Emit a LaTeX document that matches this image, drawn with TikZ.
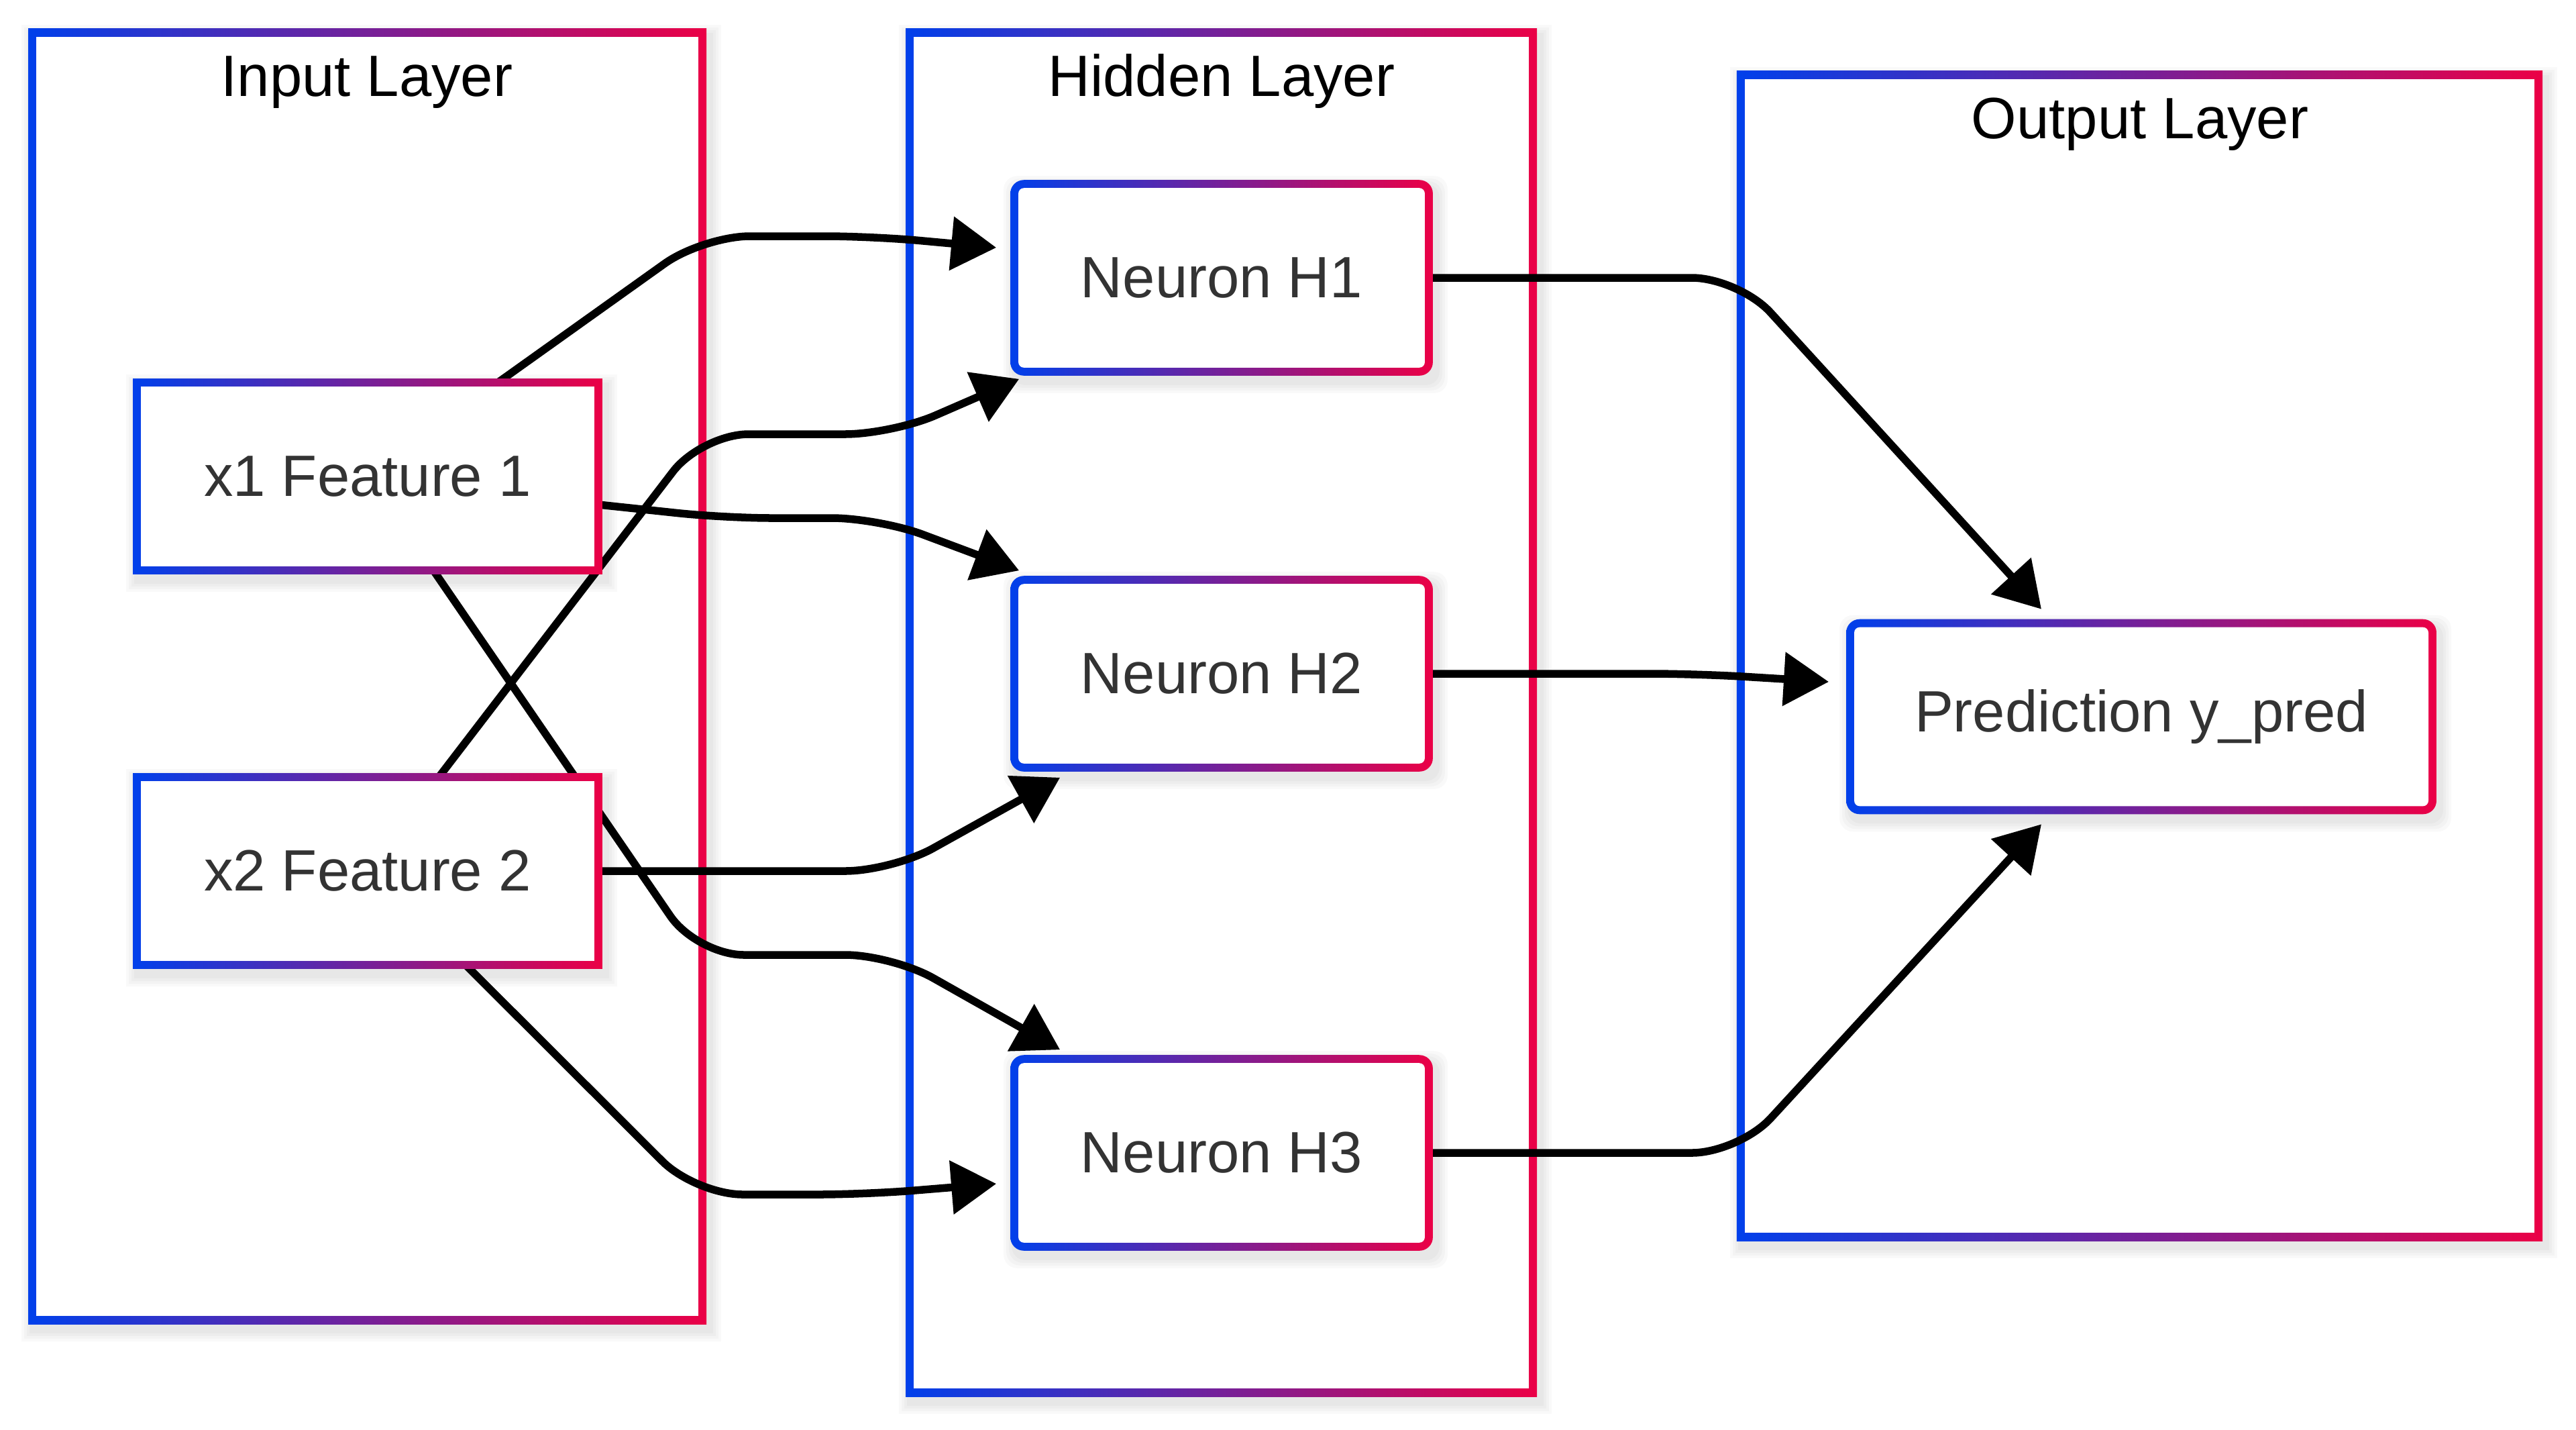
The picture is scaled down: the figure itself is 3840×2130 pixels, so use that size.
\documentclass[tikz,border=0pt]{standalone}
\usepackage{fontspec}
\setmainfont{Liberation Sans}
\usetikzlibrary{arrows.meta,calc}
\definecolor{cblue}{RGB}{0,64,235}
\definecolor{cred}{RGB}{235,0,70}
\definecolor{ntext}{RGB}{51,51,51}
\pgfdeclarelayer{frames}
\pgfdeclarelayer{edges}
\pgfdeclarelayer{boxes}
\pgfsetlayers{frames,edges,boxes,main}

% #1 node name, #2 outer corner style, #3 inner corner style, #4 layer
\newcommand\gradrect[4]{%
  \begin{pgfonlayer}{#4}
    \foreach \s in {4,8,12,16}{%
      \fill[black,opacity=0.025,#2]
        ($(#1.south west)+(-6-\s+6,6+\s+10)$) rectangle ($(#1.north east)+(6+\s+6,-6-\s+10)$);}
    \shade[left color=cblue,right color=cred,#2]
      ($(#1.south west)+(-6,6)$) rectangle ($(#1.north east)+(6,-6)$);
    \fill[white,#3]
      ($(#1.south west)+(6,-6)$) rectangle ($(#1.north east)+(-6,6)$);
  \end{pgfonlayer}}

\tikzset{
  cluster/.style={draw=none,inner sep=0pt},
  titletext/.style={anchor=base,inner sep=0pt,text=black,font=\fontsize{24.7}{30}\selectfont},
  nbox/.style={draw=none,inner sep=0pt,minimum width=6.16cm,minimum height=2.78cm,
    text=ntext,font=\fontsize{24.7}{30}\selectfont},
  fbox/.style={nbox,minimum width=6.86cm},
  pbox/.style={nbox,minimum width=8.66cm,minimum height=2.77cm},
  conn/.style={draw=black,line width=1.15mm,line join=round,rounded corners=7mm,
    -{Triangle[length=6.7mm,width=7.8mm]}}
}

\begin{document}
\begin{tikzpicture}[x=0.01cm,y=-0.01cm]
  \useasboundingbox (0,0) rectangle (3840,2130);
  \begin{pgfonlayer}{frames}
    \fill[white] (0,0) rectangle (3840,2130);
  \end{pgfonlayer}

  % clusters
  \node[cluster,minimum width=9.97cm,minimum height=19.16cm] (inL) at (547.5,1008) {};
  \node[cluster,minimum width=9.27cm,minimum height=20.24cm] (hidL) at (1820.5,1062) {};
  \node[cluster,minimum width=11.87cm,minimum height=17.29cm] (outL) at (3189.5,977.5) {};

  \gradrect{inL}{sharp corners}{sharp corners}{frames}
  \gradrect{hidL}{sharp corners}{sharp corners}{frames}
  \gradrect{outL}{sharp corners}{sharp corners}{frames}

  \node[titletext] (tIn) at (547,143) {Input Layer};
  \node[titletext] (tHid) at (1821,143) {Hidden Layer};
  \node[titletext] (tOut) at (3190,206) {Output Layer};

  % nodes
  \node[fbox] (x1) at (548,710) {x1 Feature 1};
  \node[fbox] (x2) at (548,1298) {x2 Feature 2};
  \node[nbox] (h1) at (1821,414) {Neuron H1};
  \node[nbox] (h2) at (1821,1004) {Neuron H2};
  \node[nbox] (h3) at (1821,1718) {Neuron H3};
  \node[pbox] (pred) at (3192,1068) {Prediction y\_pred};

  \gradrect{x1}{sharp corners}{sharp corners}{boxes}
  \gradrect{x2}{sharp corners}{sharp corners}{boxes}
  \gradrect{h1}{rounded corners=2mm}{rounded corners=0.8mm}{boxes}
  \gradrect{h2}{rounded corners=2mm}{rounded corners=0.8mm}{boxes}
  \gradrect{h3}{rounded corners=2mm}{rounded corners=0.8mm}{boxes}
  \gradrect{pred}{rounded corners=2mm}{rounded corners=0.8mm}{boxes}

  % connectors
  \begin{pgfonlayer}{edges}
    \draw[conn] ($(x1.north)+(194,0)$) -- (1048,352) -- (1300,352) -- ($(h1.west)+(-27,-45)$);
    \draw[conn] ($(x1.east)+(0,42)$) -- (1080,772) -- (1310,772) -- ($(h2.north west)+(7,-14)$);
    \draw[conn] ($(x1.south)+(98,0)$) -- (1039,1423) -- (1330,1423) -- ($(h3.north west)+(68,-14)$);
    \draw[conn] ($(x2.north)+(106,0)$) -- (1046,647) -- (1330,647) -- ($(h1.south west)+(7,11)$);
    \draw[conn] (x2.east) -- (1330,1298) -- ($(h2.south west)+(68,15)$);
    \draw[conn] ($(x2.south)+(146,0)$) -- (1037,1780) -- (1290,1780) -- ($(h3.west)+(-27,46)$);
    \draw[conn] (h1.east) -- (2592,414) -- ($(pred.north)+(-149,-21)$);
    \draw[conn] (h2.east) -- (2530,1004) -- ($(pred.west)+(-32,-52)$);
    \draw[conn] (h3.east) -- (2592,1718) -- ($(pred.south)+(-149,21)$);
  \end{pgfonlayer}
\end{tikzpicture}
\end{document}
